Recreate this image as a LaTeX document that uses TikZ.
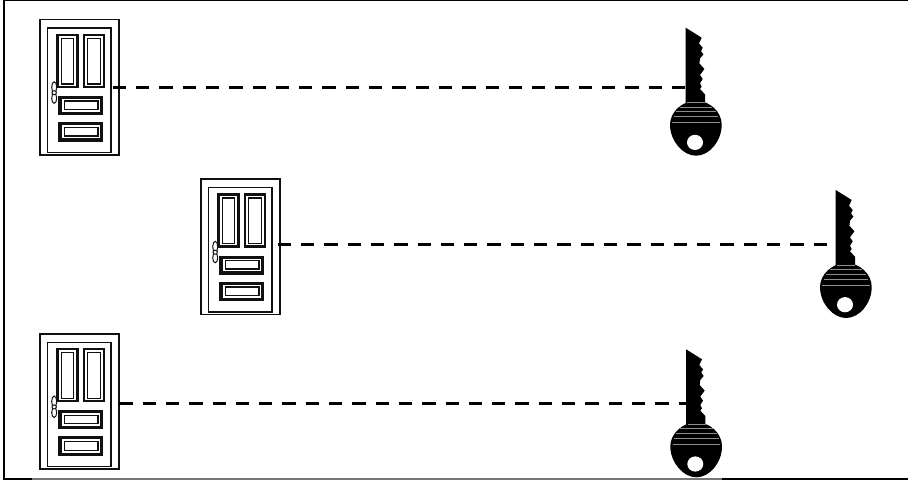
\documentclass[tikz,border=0pt]{standalone}
\usetikzlibrary{calc}
\definecolor{inkline}{HTML}{111111}
\definecolor{rimgray}{HTML}{767676}
\definecolor{stripegray}{HTML}{8C8C8C}
\tikzset{
  doorframe/.style={draw=inkline,line width=1.6pt,fill=white,rectangle,inner sep=0pt,outer sep=0pt,minimum width=79pt,minimum height=135.5pt,anchor=north west},
  keyanchor/.style={rectangle,inner sep=0pt,outer sep=0pt,minimum width=16pt,minimum height=128pt,anchor=north west},
  link/.style={draw=black,line width=2.8pt,dash pattern=on 13.3pt off 10pt},
  thinrect/.style={draw=inkline,line width=1.4pt},
  boldrect/.style={draw=inkline,line width=2.5pt},
  knob/.style={draw=inkline,line width=1pt,fill=white},
  stripe/.style={draw=stripegray,line width=1pt},
  doorpanel/.pic={
    \draw[thinrect] (7.7,8.5) rectangle (71,133);
    \draw[boldrect] (17.7,15.5) rectangle (37.7,67.5);
    \draw[thinrect] (21.7,18.8) rectangle (33.3,64.5);
    \draw[boldrect] (44,15.5) rectangle (64,67.5);
    \draw[thinrect] (47.6,18.8) rectangle (60.4,64.5);
    \fill[inkline] (18.3,76.5) rectangle (63.3,95.5);
    \fill[white] (21.8,79.7) rectangle (59.8,92.3);
    \draw[thinrect] (24.6,81.6) rectangle (58,89.8);
    \fill[inkline] (18.3,102.5) rectangle (63.3,122);
    \fill[white] (21.8,105.7) rectangle (59.8,118.8);
    \draw[thinrect] (24.6,107.8) rectangle (58,116.6);
    \draw[knob] (14.2,67.8) ellipse (2.5pt and 5.5pt);
    \draw[knob] (14.2,78.8) ellipse (2.5pt and 5pt);
    \draw[knob] (14.2,73.2) ellipse (2.2pt and 2pt);
  },
  keyshape/.pic={
    \fill[black] (0,0) -- (16,10) -- (13.3,15.7) -- (17,20) -- (15.3,23.3) -- (17.7,26.7) -- (14.3,30.7)
      -- (13.7,35.7) -- (18.7,41.3) -- (14.3,47.3) -- (17,51.3) -- (14.3,55.7) -- (16,59) -- (14.3,61.3)
      -- (19.3,66.7) -- (19.3,76) -- (0,76) -- cycle;
    \fill[black] (10.3,73) .. controls (24,73) and (36,84) .. (36,97)
      .. controls (36,113) and (24,128) .. (10.3,128)
      .. controls (-3,128) and (-15.7,113) .. (-15.7,97)
      .. controls (-15.7,84) and (-3,73) .. (10.3,73) -- cycle;
    \draw[stripe] (1.5,75) -- (19.5,75);
    \draw[stripe] (-6,79.3) -- (26.5,79.3);
    \draw[stripe] (-10,84) -- (30.5,84);
    \draw[stripe] (-12,89) -- (32.5,89);
    \draw[stripe] (-13.5,95) -- (34,95);
    \fill[white] (9.3,114.7) ellipse (8pt and 7.6pt);
  }
}
\begin{document}
\begin{tikzpicture}[x=1pt,y=-1pt]
\useasboundingbox (0,0) rectangle (908,482);
\fill[white] (0,0) rectangle (908,482);
% frame
\draw[black,line width=1.4pt] (3.9,0.6) -- (908,0.6);
\draw[black,line width=1.8pt] (3.9,0) -- (3.9,480);
\draw[black,line width=2pt] (3,479) -- (32,479);
\draw[rimgray,line width=2pt] (32,479) -- (722,479);
\draw[black,line width=2pt] (722,479) -- (908,479);
% doors
\node[doorframe] (door1) at (40,19.5) {};
\node[doorframe] (door2) at (201,179) {};
\node[doorframe] (door3) at (40,333.7) {};
\pic at (door1.north west) {doorpanel};
\pic at (door2.north west) {doorpanel};
\pic at (door3.north west) {doorpanel};
% key anchors
\node[keyanchor] (key1) at (685.7,27.7) {};
\node[keyanchor] (key2) at (835.7,190) {};
\node[keyanchor] (key3) at (686,349.3) {};
% connectors
\coordinate (from1) at ([xshift=-6.3pt,yshift=-0.25pt]door1.east);
\coordinate (from2) at ([xshift=-2.3pt,yshift=2.25pt]door2.east);
\coordinate (from3) at ([xshift=0.3pt,yshift=-2.05pt]door3.east);
\draw[link] (from1) -- (from1 -| key1.west);
\draw[link] (from2) -- (from2 -| key2.west);
\draw[link] (from3) -- (from3 -| key3.west);
% keys
\pic at (key1.north west) {keyshape};
\pic at (key2.north west) {keyshape};
\pic at (key3.north west) {keyshape};
\end{tikzpicture}
\end{document}
